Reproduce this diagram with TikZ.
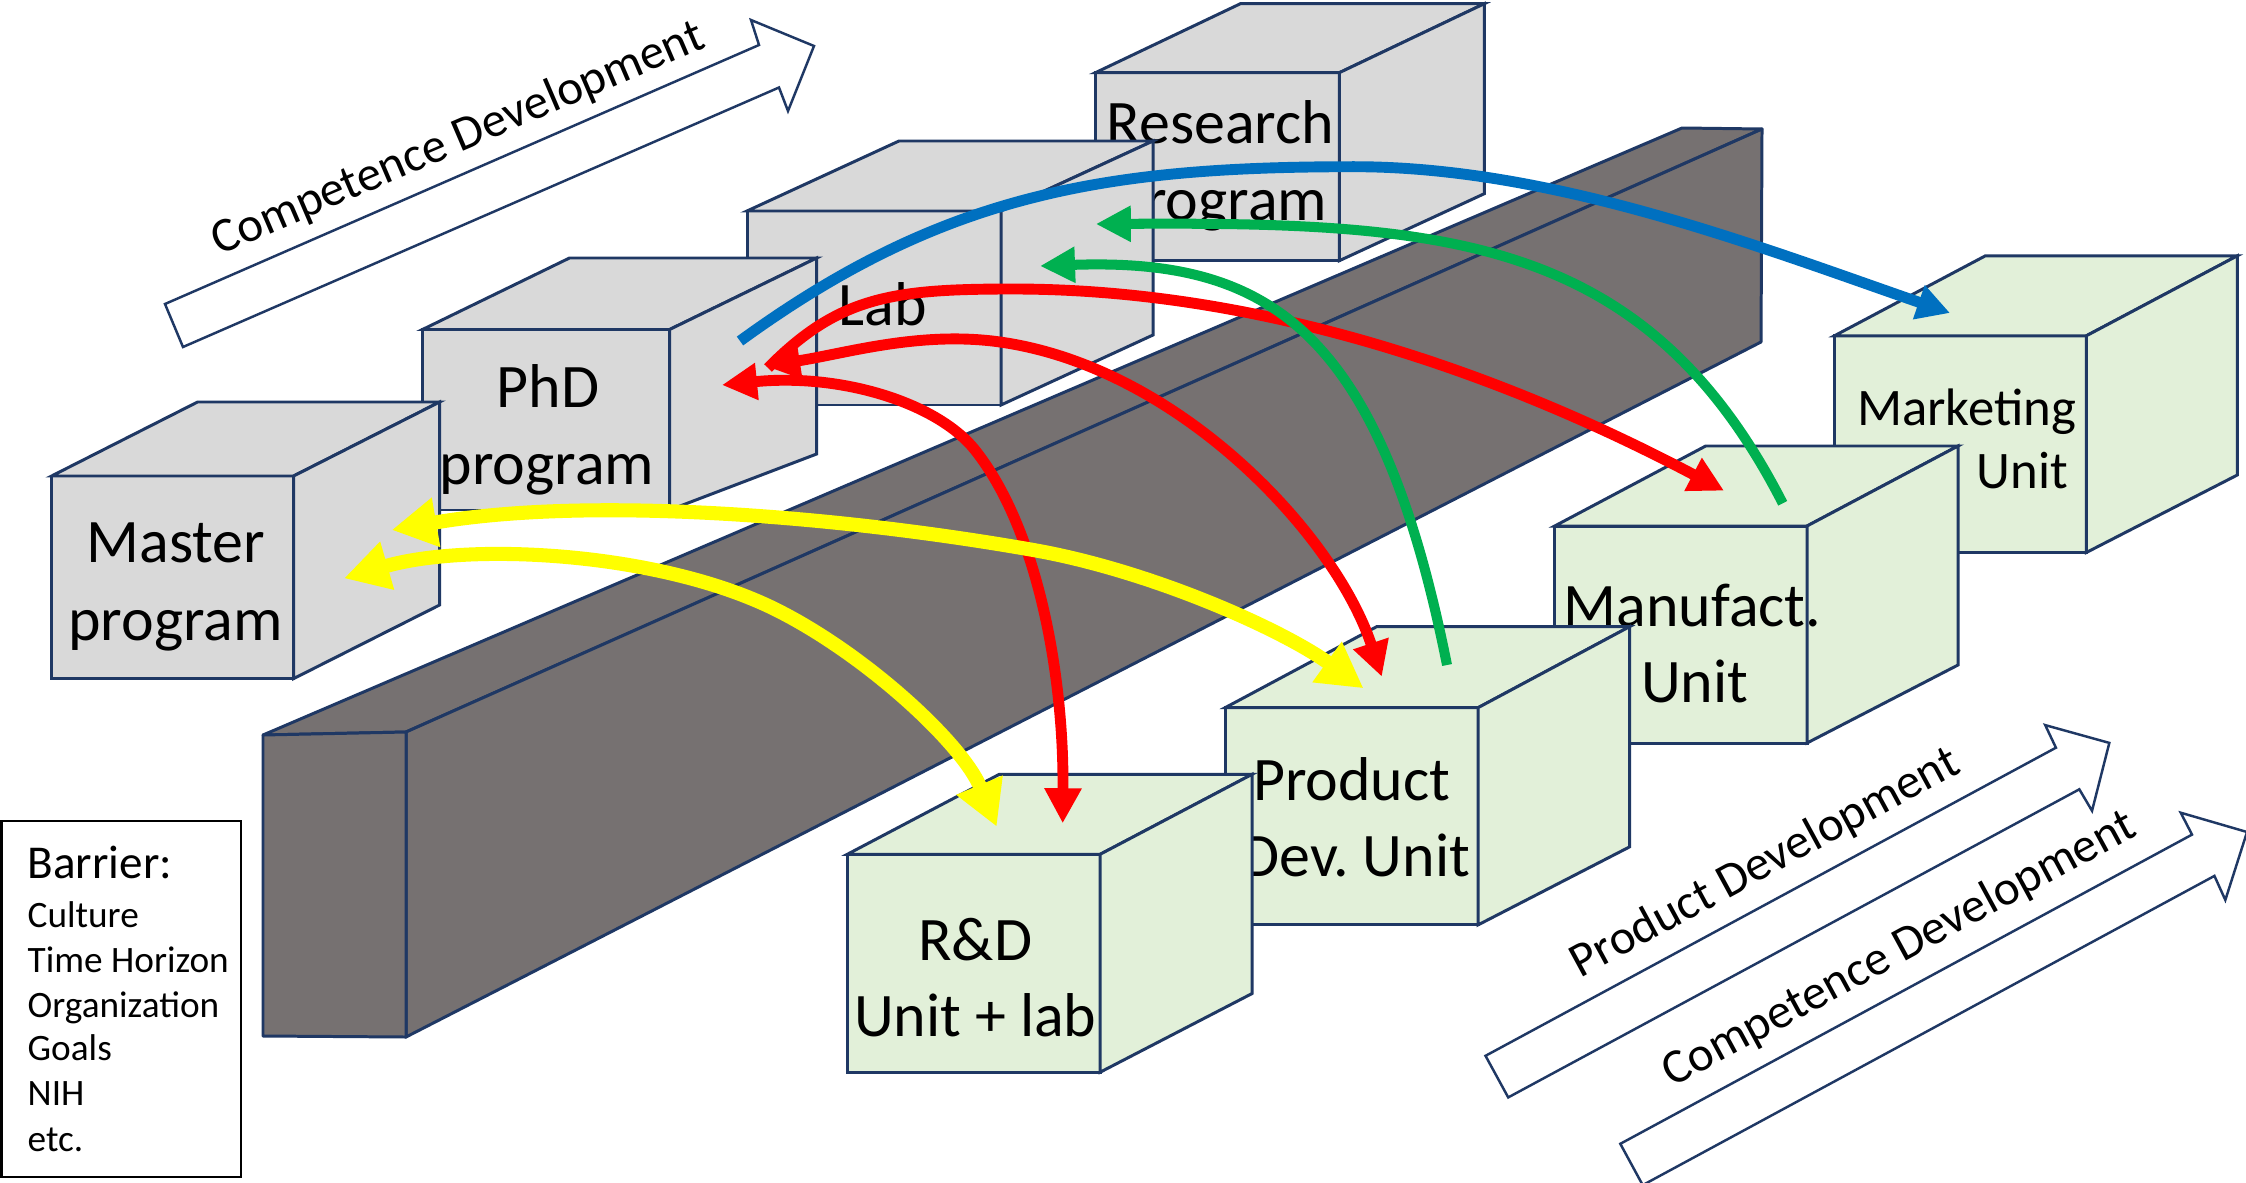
\documentclass[tikz,border=0pt]{standalone}
\usepackage{fontspec}
\setmainfont{Carlito}
\usetikzlibrary{arrows.meta}
\definecolor{navy}{HTML}{1F3864}
\definecolor{boxgray}{HTML}{D9D9D9}
\definecolor{boxgreen}{HTML}{E2F0D9}
\definecolor{wallgray}{HTML}{767171}
\definecolor{arrred}{HTML}{FF0000}
\definecolor{arryellow}{HTML}{FFFF00}
\definecolor{arrgreen}{HTML}{00B050}
\definecolor{arrblue}{HTML}{0070C0}
\frenchspacing
% x1 y1 x2 y2 dx dy(up) ybackbottom style
\newcommand{\boxcube}[8]{%
  \filldraw[#8] (#1,#2) rectangle (#3,#4);
  \filldraw[#8] (#1,#2) -- ({#1+#5},{#2-#6}) -- ({#3+#5},{#2-#6}) -- (#3,#2) -- cycle;
  \filldraw[#8] (#3,#2) -- ({#3+#5},{#2-#6}) -- ({#3+#5},#7) -- (#3,#4) -- cycle;
}
\tikzset{
  redtip/.tip={Triangle[length=0.35cm,width=0.35cm]},
  yeltip/.tip={Triangle[length=0.45cm,width=0.47cm]},
  grntip/.tip={Triangle[length=0.35cm,width=0.34cm]},
  blutip/.tip={Triangle[length=0.33cm,width=0.34cm]}
}
\begin{document}
\begin{tikzpicture}[x=0.01cm,y=-0.01cm,
  graycube/.style={fill=boxgray,draw=navy,line width=0.85pt},
  greencube/.style={fill=boxgreen,draw=navy,line width=0.85pt},
  wall/.style={fill=wallgray,draw=navy,line width=0.85pt,line join=round},
  lbl/.style={font=\fontsize{17.6pt}{21pt}\selectfont,inner sep=0pt,anchor=base},
  mlbl/.style={font=\fontsize{15pt}{18pt}\selectfont,inner sep=0pt,anchor=base east},
  leghead/.style={font=\fontsize{13.4pt}{16pt}\selectfont,inner sep=0pt,anchor=base west},
  legitem/.style={font=\fontsize{10.6pt}{13pt}\selectfont,inner sep=0pt,anchor=base west},
  blockarrow/.style={fill=white,draw=navy,line width=0.7pt},
  arrtext/.style={font=\fontsize{13.9pt}{16pt}\selectfont,inner sep=0pt,anchor=base west},
  redA/.style={draw=arrred,line width=3.1pt},
  yelA/.style={draw=arryellow,line width=4pt},
  grnA/.style={draw=arrgreen,line width=2.85pt},
  bluA/.style={draw=arrblue,line width=3.1pt}
]
\useasboundingbox (0,0) rectangle (2246,1182);
\fill[white] (0,0) rectangle (2246,1182);

% ---------- gray cubes (back to front) ----------
\boxcube{1095.4}{72.7}{1339.3}{260.7}{145}{69}{193.7}{graycube}
\node[lbl] (tres1) at (1220.5,143.5) {Research};
\node[lbl] (tres2) at (1220,220) {program};
\boxcube{747}{211}{1001}{405}{152}{70}{335}{graycube}
\node[lbl] (tlab) at (883,325) {Lab};
\boxcube{422.5}{329.5}{669.6}{510}{147}{71.5}{454}{graycube}
\node[lbl] (tphd1) at (548,407) {PhD};
\node[lbl] (tphd2) at (547,484) {program};
\boxcube{51.6}{476}{293.6}{678.6}{146}{74}{605}{graycube}
\node[lbl] (tmas1) at (176,562.5) {Master};
\node[lbl] (tmas2) at (175.6,640.6) {program};

% ---------- barrier ----------
\coordinate (ftl) at (263,735);
\coordinate (ftr) at (406,732);
\coordinate (fbr) at (406,1037);
\coordinate (fbl) at (263,1036);
\coordinate (btl) at (1682,128);
\coordinate (btr) at (1762,129);
\coordinate (bbr) at (1761,342);
\filldraw[wall] (ftl) -- (btl) -- (btr) -- (ftr) -- cycle;
\filldraw[wall] (ftr) -- (btr) -- (bbr) -- (fbr) -- cycle;
\filldraw[wall] (ftl) -- (ftr) -- (fbr) -- (fbl) -- cycle;

% ---------- green cubes (back to front) ----------
\boxcube{1834.4}{335.8}{2086.3}{552.5}{151}{80}{475}{greencube}
\node[mlbl] (tmkt1) at (2076.7,425.7) {Marketing};
\node[mlbl] (tmkt2) at (2069,488) {Unit};
\boxcube{1554.7}{526}{1807}{743}{151}{80}{665}{greencube}
\node[lbl] (tman1) at (1692.5,626.6) {Manufact.};
\node[lbl] (tman2) at (1694.6,702) {Unit};
\boxcube{1225.3}{707.6}{1478.2}{924.8}{151.5}{81}{846.8}{greencube}
\node[lbl] (tpd1) at (1351.7,800.4) {Product};
\node[lbl] (tpd2) at (1356,876.5) {Dev. Unit};
\boxcube{847.3}{854.3}{1100.1}{1072.2}{152}{80}{993.5}{greencube}
\node[lbl] (trd1) at (975.3,960) {R\&D};
\node[lbl] (trd2) at (975.3,1036) {Unit + lab};

% ---------- legend ----------
\draw[line width=0.7pt,fill=white] (1.5,821) rectangle (241,1177);
\node[leghead] (lgb) at (27,878.4) {Barrier:};
\node[legitem] (lg1) at (27,927.4) {Culture};
\node[legitem] (lg2) at (27,972) {Time Horizon};
\node[legitem] (lg3) at (27,1017.6) {Organization};
\node[legitem] (lg4) at (27,1060) {Goals};
\node[legitem] (lg5) at (27,1105.6) {NIH};
\node[legitem] (lg6) at (27,1151) {etc.};

% ---------- block arrows ----------
\filldraw[blockarrow] (165,304) -- (759,45) -- (751,20) -- (814,46) -- (788,111) -- (779,87.5) -- (183,347) -- cycle;
\node[arrtext,rotate=23.2] (tcd1) at (219,256) {Competence Development};
\filldraw[blockarrow] (1485.5,1055.8) -- (2055.9,747.7) -- (2045.2,725.1) -- (2109.3,742.9) -- (2092,810.8) -- (2079.3,789.3) -- (1508.2,1097.4) -- cycle;
\node[arrtext,rotate=28.5] (tpdv) at (1580,979) {Product Development};
\filldraw[blockarrow] (1620.3,1143.8) -- (2192,834.6) -- (2180.7,812.7) -- (2247,832) -- (2225.3,900) -- (2214.4,875.9) -- (1642.7,1185.1) -- cycle;
\node[arrtext,rotate=28.5] (tcd2) at (1672,1088) {Competence Development};

% ---------- connector end points ----------
\coordinate (rtS) at (768,368);   \coordinate (rtE) at (1724,490.7);
\coordinate (rmS) at (765,366);   \coordinate (rmE) at (1381.8,676.7);
\coordinate (rbS) at (722,385);   \coordinate (rbE) at (1062.7,823.3);
\coordinate (yuS) at (391.7,530); \coordinate (yuE) at (1363.5,688.3);
\coordinate (ylS) at (344,578.3); \coordinate (ylE) at (996.7,826.7);
\coordinate (gaS) at (1782.7,503.3); \coordinate (gaE) at (1095.8,224);
\coordinate (gbS) at (1447,665);  \coordinate (gbE) at (1040,266);
\coordinate (bS) at (740,341);    \coordinate (bE) at (1950,313);

% ---------- red ----------
\draw[redA,-redtip] (rtS) .. controls (838.7,296.3) and (893,289) .. (1013,289)
   .. controls (1263,289) and (1503,374) .. (rtE);
\draw[redA,redtip-redtip] (rmS) .. controls (845,353.6) and (920,330.7) .. (1000,342)
   .. controls (1178,367) and (1334.9,534.2) .. (rmE);
\draw[redA,redtip-redtip] (rbS) .. controls (842,373) and (937.8,403.2) .. (975,450)
   .. controls (1037,528) and (1064,673) .. (rbE);
% ---------- yellow ----------
\draw[yelA,yeltip-yeltip] (yuS) .. controls (588.7,496) and (836.4,515.4) .. (1033.4,550)
   .. controls (1151.6,570.8) and (1282.5,629.7) .. (yuE);
\draw[yelA,yeltip-yeltip] (ylS) .. controls (468.8,541.9) and (660.5,551.8) .. (776.7,610)
   .. controls (866.1,654.8) and (962.2,743.5) .. (ylE);
% ---------- green ----------
\draw[grnA,-grntip] (gaS) .. controls (1646,236) and (1446,222) .. (gaE);
\draw[grnA,-grntip] (gbS) .. controls (1380,330) and (1270,258) .. (gbE);
% ---------- blue ----------
\draw[bluA,-blutip] (bS) .. controls (942,194) and (1104,166.7) .. (1354,166.7)
   .. controls (1554,166.7) and (1761,247.6) .. (bE);
\end{tikzpicture}
\end{document}
